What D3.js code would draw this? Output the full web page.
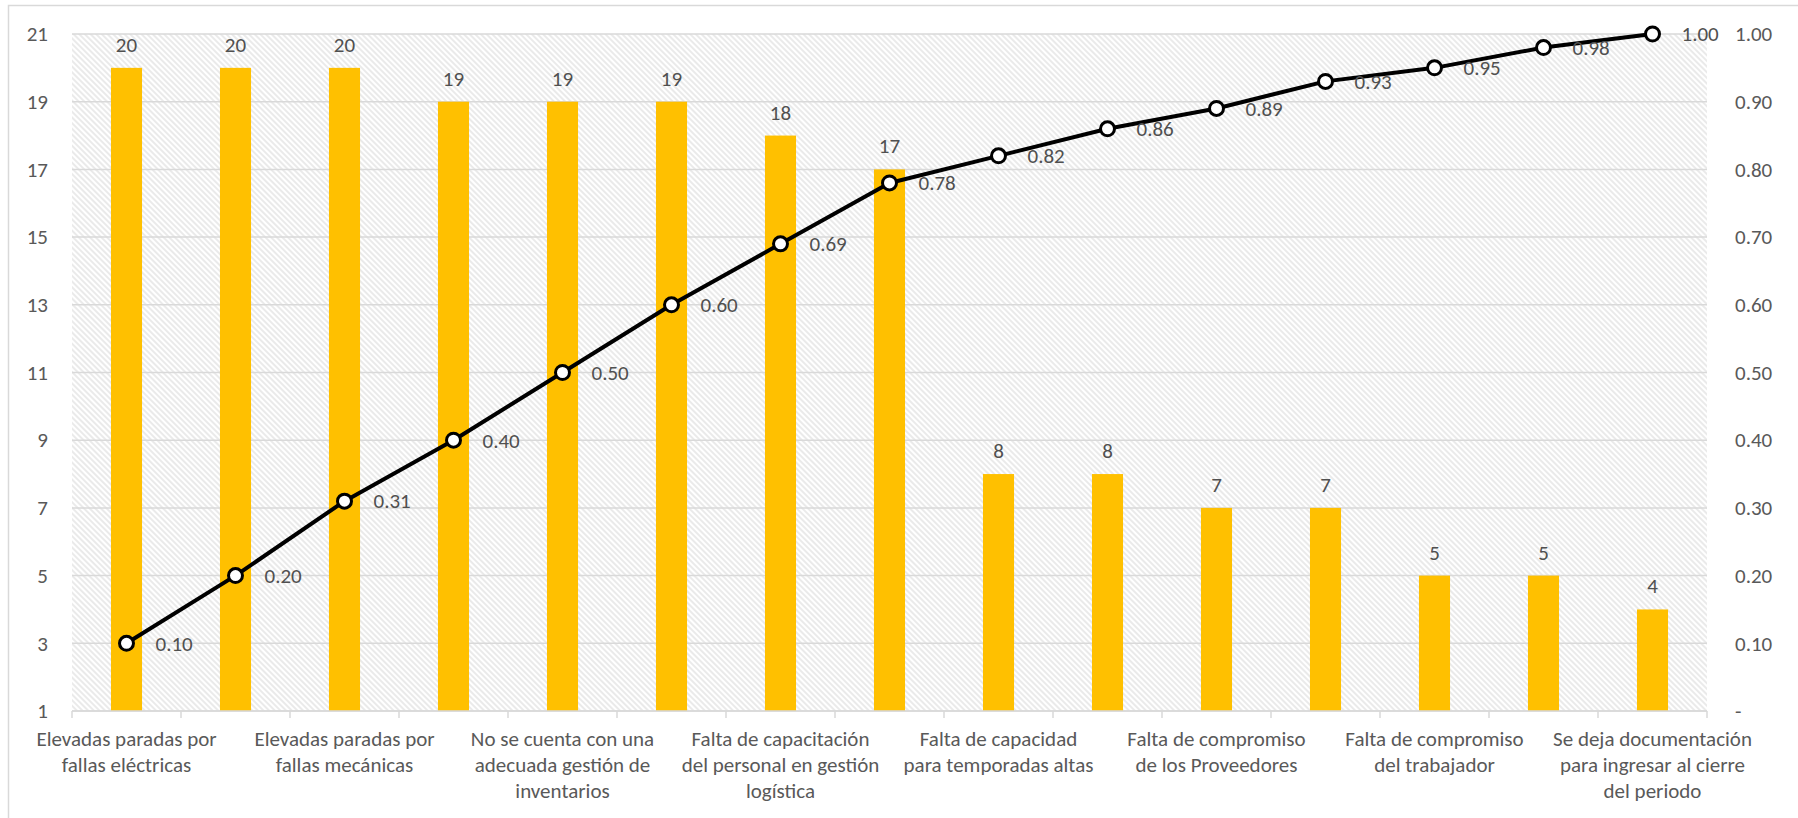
<!DOCTYPE html>
<html lang="es">
<head>
    <meta charset="UTF-8">
    <script src="https://d3js.org/d3.v7.min.js"></script>
    <title>Pareto</title>
    <style>
      body {
         margin: 0;
         background: #ffffff;
         font-family: Calibri, Carlito, Lato, sans-serif;
      }
    </style>
</head>
<body>
    <div id="wrapper"></div>

<script>
   // bar labels: only every other category is shown on the axis (as in the original)
   const labels = [
      "Elevadas paradas por\nfallas eléctricas", "",
      "Elevadas paradas por\nfallas mecánicas", "",
      "No se cuenta con una\nadecuada gestión de\ninventarios", "",
      "Falta de capacitación\ndel personal en gestión\nlogística", "",
      "Falta de capacidad\npara temporadas altas", "",
      "Falta de compromiso\nde los Proveedores", "",
      "Falta de compromiso\ndel trabajador", "",
      "Se deja documentación\npara ingresar al cierre\ndel periodo"
   ];
   const counts = [20, 20, 20, 19, 19, 19, 18, 17, 8, 8, 7, 7, 5, 5, 4];
   const cumulative = [0.10, 0.20, 0.31, 0.40, 0.50, 0.60, 0.69, 0.78, 0.82, 0.86, 0.89, 0.93, 0.95, 0.98, 1.00];
   const leftTicks = [1, 3, 5, 7, 9, 11, 13, 15, 17, 19, 21];
   const rightTicks = [0, 0.1, 0.2, 0.3, 0.4, 0.5, 0.6, 0.7, 0.8, 0.9, 1.0];

   const dimensions = {
      width: 1798,
      height: 818,
      margin: {top: 34, left: 72, right: 91, bottom: 107}
   }
   dimensions.boundedWidth = dimensions.width - dimensions.margin.left - dimensions.margin.right;
   dimensions.boundedHeight = dimensions.height - dimensions.margin.top - dimensions.margin.bottom;

   const svg = d3.select("#wrapper")
      .append("svg")
         .attr("width", dimensions.width)
         .attr("height", dimensions.height)
         .style("display", "block");

   // chart area border
   svg.append("rect")
      .attr("x", 8.5).attr("y", 5.5)
      .attr("width", dimensions.width + 20).attr("height", dimensions.height + 20)
      .attr("fill", "#fff")
      .attr("stroke", "#d9d9d9")
      .attr("stroke-width", 1.5);

   // hatch pattern for plot area
   const pattern = svg.append("defs").append("pattern")
      .attr("id", "hatch")
      .attr("patternUnits", "userSpaceOnUse")
      .attr("width", 4).attr("height", 4)
      .attr("patternTransform", "rotate(-45)");
   pattern.append("rect").attr("width", 4).attr("height", 4).attr("fill", "#fff");
   pattern.append("line")
      .attr("x1", 1).attr("y1", 0).attr("x2", 1).attr("y2", 4)
      .attr("stroke", "#d6d6d6").attr("stroke-width", 1);

   const bounds = svg.append("g")
      .attr("transform", `translate(${dimensions.margin.left},${dimensions.margin.top})`);

   const xScale = d3.scaleBand()
      .domain(d3.range(counts.length))
      .range([0, dimensions.boundedWidth])
      .paddingInner(0.715)
      .paddingOuter(0.3575);

   const yLeft = d3.scaleLinear()
      .domain([1, 21])
      .range([dimensions.boundedHeight, 0]);

   const yRight = d3.scaleLinear()
      .domain([0, 1])
      .range([dimensions.boundedHeight, 0]);

   bounds.append("rect")
      .attr("width", dimensions.boundedWidth)
      .attr("height", dimensions.boundedHeight)
      .attr("fill", "url(#hatch)");

   // gridlines
   bounds.append("g")
      .selectAll("line")
      .data(leftTicks)
      .join("line")
         .attr("x1", 0).attr("x2", dimensions.boundedWidth)
         .attr("y1", d => yLeft(d)).attr("y2", d => yLeft(d))
         .attr("stroke", "#d9d9d9")
         .attr("stroke-width", 1.5);

   // left axis
   const yAxisLeft = bounds.append("g")
      .call(d3.axisLeft(yLeft).tickValues(leftTicks).tickSize(0).tickPadding(24))
   yAxisLeft.select(".domain").remove();
   yAxisLeft.selectAll("text")
      .attr("fill", "#595959")
      .style("font-size", "21px")
      .style("font-family", "Calibri, Carlito, Lato, sans-serif");

   // right axis
   const yAxisRight = bounds.append("g")
      .attr("transform", `translate(${dimensions.boundedWidth},0)`)
      .call(d3.axisRight(yRight).tickValues(rightTicks).tickSize(0).tickPadding(28)
         .tickFormat(d => d === 0 ? "-" : d3.format(".2f")(d)))
   yAxisRight.select(".domain").remove();
   yAxisRight.selectAll("text")
      .attr("fill", "#595959")
      .style("font-size", "21px")
      .style("font-family", "Calibri, Carlito, Lato, sans-serif");

   // bars
   bounds.append("g")
      .selectAll("rect")
      .data(counts)
      .join("rect")
         .attr("x", (d, i) => xScale(i))
         .attr("width", xScale.bandwidth())
         .attr("y", d => yLeft(d))
         .attr("height", d => yLeft(1) - yLeft(d))
         .attr("fill", "#ffc000");

   // bar labels
   bounds.append("g")
      .selectAll("text")
      .data(counts)
      .join("text")
         .attr("x", (d, i) => xScale(i) + xScale.bandwidth() / 2)
         .attr("y", d => yLeft(d) - 16)
         .attr("text-anchor", "middle")
         .attr("fill", "#505050")
         .style("font-size", "21px")
         .text(d => d);

   // bottom axis line and ticks
   const xAxis = bounds.append("g")
      .attr("transform", `translate(0,${dimensions.boundedHeight})`);
   xAxis.append("line")
      .attr("x1", 0).attr("x2", dimensions.boundedWidth)
      .attr("stroke", "#d9d9d9").attr("stroke-width", 1.5);
   const step = xScale.step();
   xAxis.selectAll(".tick")
      .data(d3.range(counts.length + 1))
      .join("line")
         .attr("class", "tick")
         .attr("x1", d => d * step).attr("x2", d => d * step)
         .attr("y1", 0).attr("y2", 7)
         .attr("stroke", "#d9d9d9").attr("stroke-width", 1.5);

   // category labels
   const catLabels = xAxis.selectAll(".cat")
      .data(labels)
      .join("text")
         .attr("class", "cat")
         .attr("x", (d, i) => xScale(i) + xScale.bandwidth() / 2)
         .attr("text-anchor", "middle")
         .attr("fill", "#595959")
         .style("font-size", "21px");
   catLabels.each(function(d) {
      const t = d3.select(this);
      d.split("\n").forEach((line, j) => {
         if (line === "") return;
         t.append("tspan")
            .attr("x", t.attr("x"))
            .attr("y", 35 + j * 26)
            .text(line);
      });
   });

   // cumulative line
   const line = d3.line()
      .x((d, i) => xScale(i) + xScale.bandwidth() / 2)
      .y(d => yRight(d));

   bounds.append("path")
      .datum(cumulative)
      .attr("d", line)
      .attr("fill", "none")
      .attr("stroke", "#000")
      .attr("stroke-width", 4)
      .attr("stroke-linejoin", "round");

   bounds.append("g")
      .selectAll("circle")
      .data(cumulative)
      .join("circle")
         .attr("cx", (d, i) => xScale(i) + xScale.bandwidth() / 2)
         .attr("cy", d => yRight(d))
         .attr("r", 7)
         .attr("fill", "#fff")
         .attr("stroke", "#000")
         .attr("stroke-width", 3);

   bounds.append("g")
      .selectAll("text")
      .data(cumulative)
      .join("text")
         .attr("x", (d, i) => xScale(i) + xScale.bandwidth() / 2 + 29)
         .attr("y", d => yRight(d))
         .attr("dy", "0.35em")
         .attr("fill", "#505050")
         .style("font-size", "21px")
         .text(d => d3.format(".2f")(d));
</script>
</body>
</html>
